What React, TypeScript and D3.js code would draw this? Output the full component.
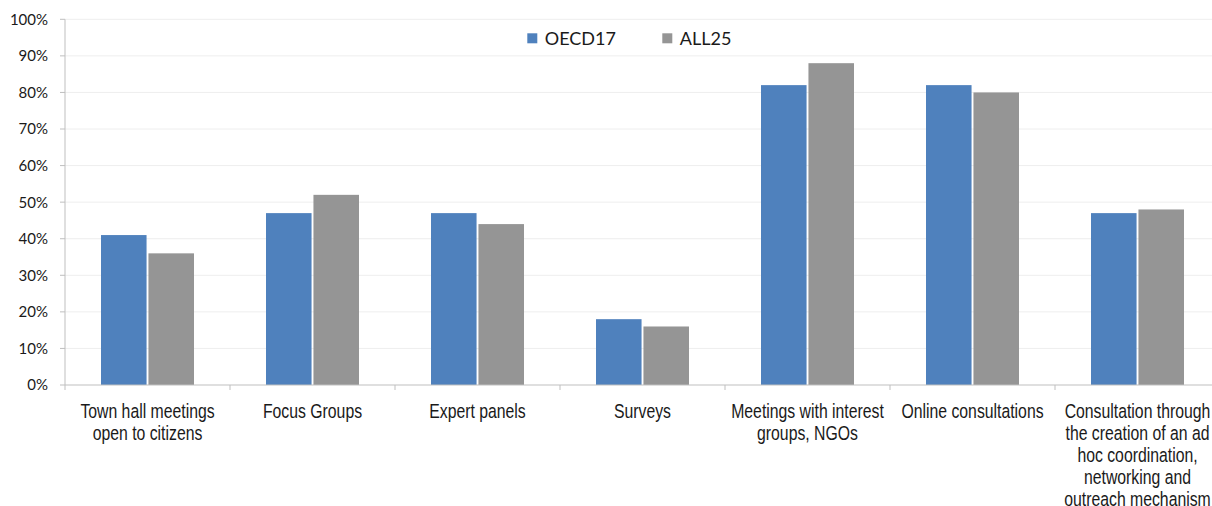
import React from "react";
import * as d3 from "d3";

const categories: string[][] = [
  ["Town hall meetings", "open to citizens"],
  ["Focus Groups"],
  ["Expert panels"],
  ["Surveys"],
  ["Meetings with interest", "groups, NGOs"],
  ["Online consultations"],
  ["Consultation through", "the creation of an ad", "hoc coordination,", "networking and", "outreach mechanism"],
];
const seriesNames = ["OECD17", "ALL25"];
const oecd17 = [41, 47, 47, 18, 82, 82, 47];
const all25 = [36, 52, 44, 16, 88, 80, 48];
const yTicks = [0, 10, 20, 30, 40, 50, 60, 70, 80, 90, 100];
const colors = ["#4F81BD", "#959595"];

const W = 1212;
const H = 506;
const left = 65;
const band = 165;
const y0 = 385;
const y100 = 19.3;

export default function App() {
  const keys = categories.map((_, i) => String(i));
  const x = d3.scaleBand<string>().domain(keys).range([left, left + band * keys.length]).padding(0);
  const groupW = x.bandwidth() * 0.5636;
  const xi = d3.scaleBand<string>().domain(seriesNames).range([0, groupW]).paddingInner(0.04);
  const y = d3.scaleLinear().domain([0, 100]).range([y0, y100]);
  const values = [oecd17, all25];
  // condensed sans for category labels (horizontally compressed Liberation Sans)
  const labelFont = "'Liberation Sans', Arial, sans-serif";
  const tickFont = "Lato, 'Open Sans', sans-serif";

  return (
    <div style={{ position: "absolute", left: 0, top: 0 }}>
      <svg width={W} height={H} style={{ display: "block", background: "#fff" }}>
        {/* horizontal gridlines */}
        {yTicks.slice(1).map((t) => (
          <line key={"g" + t} x1={left} x2={W} y1={y(t)} y2={y(t)} stroke="#eeeeee" strokeWidth={1} />
        ))}
        {/* bars */}
        {keys.map((k, ci) => {
          const gx = (x(k) as number) + (x.bandwidth() - groupW) / 2;
          return seriesNames.map((s, si) => (
            <rect
              key={k + s}
              x={gx + (xi(s) as number)}
              y={y(values[si][ci])}
              width={xi.bandwidth()}
              height={y0 - y(values[si][ci])}
              fill={colors[si]}
            />
          ));
        })}
        {/* y axis */}
        <line x1={left} x2={left} y1={y100} y2={y0} stroke="#bfbfbf" strokeWidth={1} />
        {yTicks.map((t) => (
          <g key={"y" + t}>
            <line x1={left - 5} x2={left} y1={y(t)} y2={y(t)} stroke="#bfbfbf" />
            <text x={48} y={y(t)} dy="0.36em" textAnchor="end" fontFamily={tickFont} fontSize={15} fill="#1a1a1a">
              {t + "%"}
            </text>
          </g>
        ))}
        {/* x axis */}
        <line x1={left} x2={W} y1={y0} y2={y0} stroke="#bfbfbf" strokeWidth={1} />
        {keys.map((k) => (
          <line key={"xt" + k} x1={x(k) as number} x2={x(k) as number} y1={y0} y2={y0 + 5} stroke="#bfbfbf" />
        ))}
        {categories.map((lines, ci) => {
          const cx = (x(String(ci)) as number) + x.bandwidth() / 2;
          return (
            <text
              key={"c" + ci}
              transform={`translate(${cx},0) scale(0.81,1)`}
              textAnchor="middle"
              fontFamily={labelFont}
              fontSize={19.5}
              fill="#1a1a1a"
            >
              {lines.map((ln, li) => (
                <tspan key={li} x={0} y={418.5 + li * 21.8}>
                  {ln}
                </tspan>
              ))}
            </text>
          );
        })}
        {/* legend */}
        {seriesNames.map((s, si) => {
          const lx = [527.3, 662.3][si];
          return (
            <g key={"l" + s}>
              <rect x={lx} y={33.3} width={10} height={10} fill={colors[si]} />
              <text x={lx + 17.5} y={44.5} fontFamily={tickFont} fontSize={18} fill="#1a1a1a">
                {s}
              </text>
            </g>
          );
        })}
      </svg>
    </div>
  );
}
